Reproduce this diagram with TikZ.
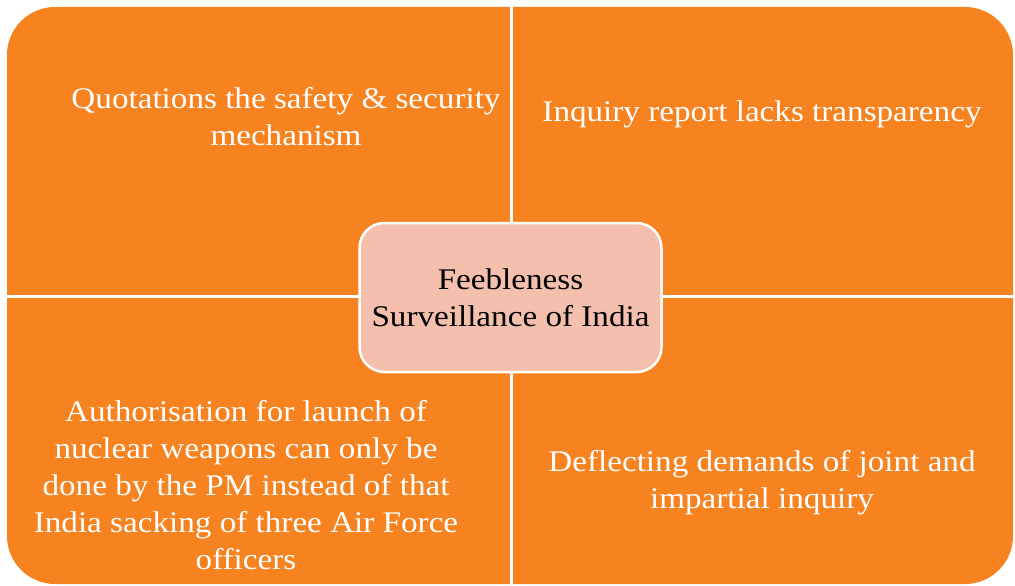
\documentclass[tikz,border=0pt]{standalone}
\usepackage{fontspec}
\setmainfont{Liberation Serif}[FakeStretch=1.105]
\definecolor{qorange}{RGB}{246,130,32}
\definecolor{cpink}{RGB}{244,191,172}
\begin{document}
\begin{tikzpicture}[x=1pt,y=-1pt,
  qtext/.style={text=white,align=center,font=\fontsize{30}{37}\selectfont,inner sep=0pt},
  ctext/.style={text=black,align=center,font=\fontsize{30}{37}\selectfont,inner sep=0pt},
  divider/.style={draw=white,line width=3pt}]
\useasboundingbox (0,0) rectangle (1015,586);
\fill[qorange,rounded corners=48pt] (7,7) rectangle (1013,584);
\coordinate (vt) at (511.5,0);
\coordinate (vb) at (511.5,590);
\coordinate (hl) at (0,296.5);
\coordinate (hr) at (1020,296.5);
\draw[divider] (vt) -- (vb);
\draw[divider] (hl) -- (hr);
\node[draw=white,line width=2.5pt,fill=cpink,rounded corners=25pt,minimum width=302pt,minimum height=149pt] (c) at (510.5,297.5) {};
\node[ctext] (ct) at (c.center) [yshift=0pt] {Feebleness\\Surveillance of India};
\node[qtext] (tl) at (286,117) {Quotations the safety \& security\\mechanism};
\node[qtext] (tr) at (762,114) {Inquiry report lacks transparency};
\node[qtext] (bl) at (246,485.5) {Authorisation for launch of\\nuclear weapons can only be\\done by the PM instead of that\\India sacking of three Air Force\\officers};
\node[qtext] (br) at (762,482.5) {Deflecting demands of joint and\\impartial inquiry};
\end{tikzpicture}
\end{document}
